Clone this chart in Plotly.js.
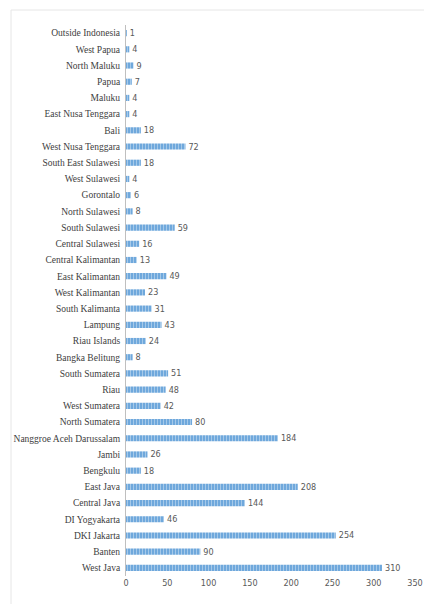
<!DOCTYPE html>
<html>
<head>
<meta charset="utf-8">
<script src="https://cdn.plot.ly/plotly-3.0.1.min.js"></script>
<style>html,body{margin:0;padding:0;background:#fff;}#chart{width:424px;height:604px;}</style>
</head>
<body>
<div id="chart"></div>
<script>
const provinces = ["Outside Indonesia","West Papua","North Maluku","Papua","Maluku","East Nusa Tenggara","Bali","West Nusa Tenggara","South East Sulawesi","West Sulawesi","Gorontalo","North Sulawesi","South Sulawesi","Central Sulawesi","Central Kalimantan","East Kalimantan","West Kalimantan","South Kalimanta","Lampung","Riau Islands","Bangka Belitung","South Sumatera","Riau","West Sumatera","North Sumatera","Nanggroe Aceh Darussalam","Jambi","Bengkulu","East Java","Central Java","DI Yogyakarta","DKI Jakarta","Banten","West Java"];
const counts = [1,4,9,7,4,4,18,72,18,4,6,8,59,16,13,49,23,31,43,24,8,51,48,42,80,184,26,18,208,144,46,254,90,310];
const xTicks = [0,50,100,150,200,250,300,350];

const trace = {
  type: 'bar',
  orientation: 'h',
  y: provinces,
  x: counts,
  text: counts.map(String),
  textposition: 'outside',
  constraintext: 'none',
  cliponaxis: false,
  textfont: {family: 'DejaVu Sans Condensed, DejaVu Sans', size: 9, color: '#595959'},
  marker: {
    color: '#5b9bd5',
    pattern: {shape: '|', fgcolor: '#ffffff', bgcolor: '#6fa8dc', size: 3, solidity: 0.25, fillmode: 'overlay'},
    line: {width: 0}
  },
  hoverinfo: 'none'
};

const layout = {
  width: 424, height: 604,
  margin: {l: 126, r: 9, t: 25, b: 28},
  paper_bgcolor: '#ffffff', plot_bgcolor: '#ffffff',
  showlegend: false,
  bargap: 0.62,
  xaxis: {
    range: [0, 350], tickvals: xTicks, ticktext: xTicks.map(String),
    showgrid: false, zeroline: false, showline: false, ticks: '',
    ticklabeloverflow: 'allow',
    tickfont: {family: 'DejaVu Sans Condensed, DejaVu Sans', size: 9, color: '#595959'},
    fixedrange: true
  },
  yaxis: {
    type: 'category', autorange: 'reversed',
    showgrid: false, zeroline: false, showline: true, linecolor: '#bfbfbf', linewidth: 1,
    ticks: '', ticklen: 0, ticklabelstandoff: 3,
    tickfont: {family: '"Liberation Serif", "Times New Roman", Times, serif', size: 9.5, color: '#404040'},
    automargin: false, fixedrange: true
  },
  shapes: [
    {type: 'line', xref: 'paper', yref: 'paper', x0: (11 - 126) / 289, x1: (11 - 126) / 289, y0: (604 - 10 - 28) / 551, y1: -28 / 551, line: {color: '#e6e6e6', width: 1}},
    {type: 'line', xref: 'paper', yref: 'paper', x0: (11 - 126) / 289, x1: (424 - 126) / 289, y0: (604 - 10 - 28) / 551, y1: (604 - 10 - 28) / 551, line: {color: '#e6e6e6', width: 1}}
  ]
};

Plotly.newPlot('chart', [trace], layout, {displayModeBar: false, staticPlot: true});
</script>
</body>
</html>
